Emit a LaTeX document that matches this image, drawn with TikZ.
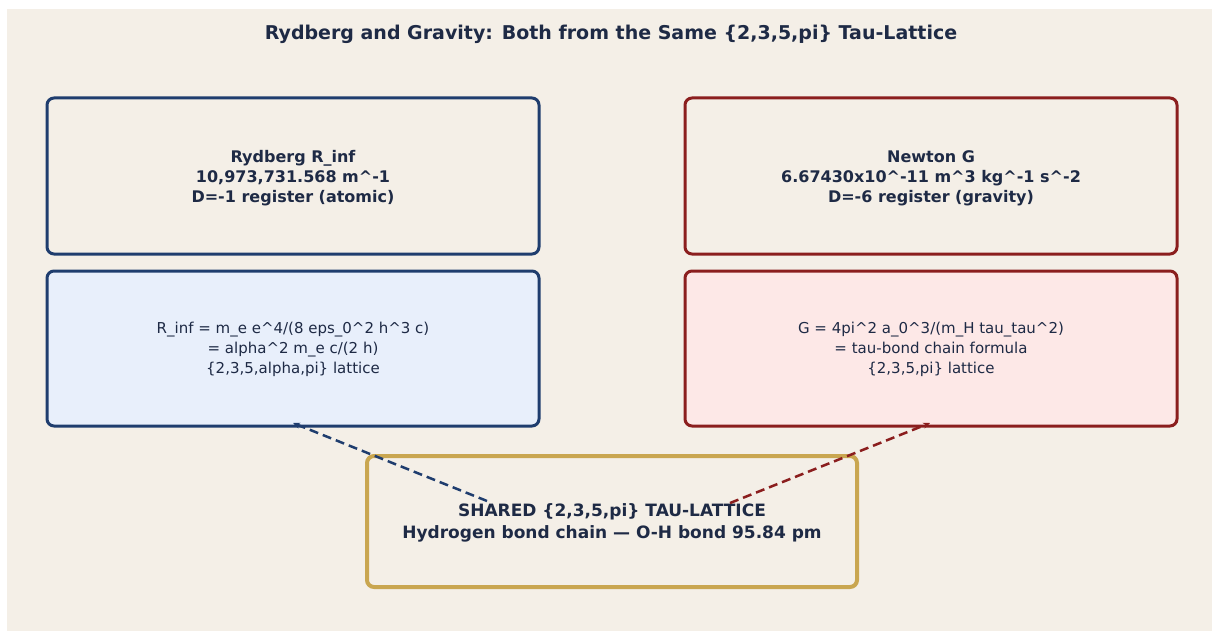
\documentclass[tikz,border=0pt]{standalone}
\usepackage{fontspec}
\setmainfont{DejaVu Sans}
\usetikzlibrary{arrows.meta}
\definecolor{bgc}{HTML}{F4EFE7}
\definecolor{navy}{HTML}{1E2A45}
\definecolor{bluec}{HTML}{1F3D6E}
\definecolor{redc}{HTML}{8B1E1E}
\definecolor{goldc}{HTML}{C9A650}
\definecolor{lblue}{HTML}{E8EFFB}
\definecolor{lred}{HTML}{FDE8E7}
\tikzset{
  box/.style={draw, line width=3pt, rounded corners=7pt, inner sep=0pt},
  boldtxt/.style={text=navy, font=\bfseries\fontsize{16}{20}\selectfont, align=center},
  regtxt/.style={text=navy, font=\fontsize{15}{20}\selectfont, align=center},
  link/.style={dashed, dash pattern=on 9pt off 5pt, line width=2.5pt, -{Stealth[length=7pt,width=6pt]}}
}
\begin{document}
\begin{tikzpicture}[x=1pt,y=-1pt]
\useasboundingbox (0,0) rectangle (1212,631);
\fill[white] (0,0) rectangle (1212,631);
\fill[bgc] (7,9) rectangle (1212,631);
\node[text=navy, font=\bfseries\fontsize{19}{23}\selectfont] (title) at (611,34) {Rydberg and Gravity: Both from the Same \{2,3,5,pi\} Tau-Lattice};
% boxes
\draw[box, bluec, fill=bgc] (47,98) rectangle (539,254);
\node[boldtxt] (rtop) at (293,178) {Rydberg R\_inf\\10,973,731.568 m\^{}-1\\D=-1 register (atomic)};
\draw[box, bluec, fill=lblue] (47,271) rectangle (539,426);
\node[regtxt] (rbot) at (293,349) {R\_inf = m\_e e\^{}4/(8 eps\_0\^{}2 h\^{}3 c)\\= alpha\^{}2 m\_e c/(2 h)\\\{2,3,5,alpha,pi\} lattice};
\coordinate (rbs) at (293,423);
\draw[box, redc, fill=bgc] (685,98) rectangle (1177,254);
\node[boldtxt] (gtop) at (931,178) {Newton G\\6.67430x10\^{}-11 m\^{}3 kg\^{}-1 s\^{}-2\\D=-6 register (gravity)};
\draw[box, redc, fill=lred] (685,271) rectangle (1177,426);
\node[regtxt] (gbot) at (931,349) {G = 4pi\^{}2 a\_0\^{}3/(m\_H tau\_tau\^{}2)\\= tau-bond chain formula\\\{2,3,5,pi\} lattice};
\coordinate (gbs) at (930,423);
\draw[box, goldc, line width=4pt, fill=bgc] (367,456) rectangle (857,587);
\node[text=navy, font=\bfseries\fontsize{17}{21.5}\selectfont, align=center] (shared) at (612,523) {SHARED \{2,3,5,pi\} TAU-LATTICE\\Hydrogen bond chain — O-H bond 95.84 pm};
\coordinate (sl) at (487,501);
\coordinate (sr) at (730,503);
\draw[link, bluec] (sl) -- (rbs);
\draw[link, redc] (sr) -- (gbs);
\end{tikzpicture}
\end{document}
